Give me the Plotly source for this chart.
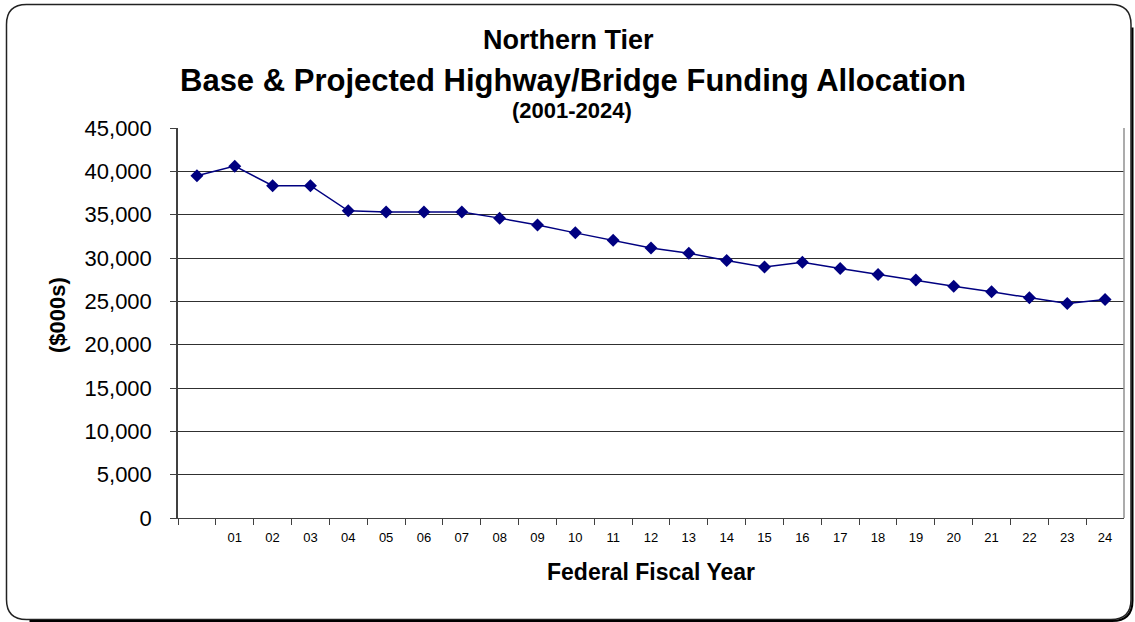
import plotly.graph_objects as go

# ---- data ----
year_labels = ["", "01", "02", "03", "04", "05", "06", "07", "08", "09", "10", "11", "12",
               "13", "14", "15", "16", "17", "18", "19", "20", "21", "22", "23", "24"]
funding = [39500, 40600, 38350, 38350, 35450, 35300, 35300, 35300, 34600, 33800, 32900,
           32050, 31150, 30550, 29700, 28950, 29500, 28800, 28100, 27450, 26750, 26100,
           25400, 24750, 25200]
y_ticks = [0, 5000, 10000, 15000, 20000, 25000, 30000, 35000, 40000, 45000]
y_tick_text = ["0", "5,000", "10,000", "15,000", "20,000", "25,000", "30,000",
               "35,000", "40,000", "45,000"]

W, H = 1135, 622
L, R, T, B = 178, 1124, 128, 518
PW, PH = R - L, B - T


def px(X):
    return (X - L) / PW


def py(Y):
    return (B - Y) / PH


x_idx = list(range(len(year_labels)))

fig = go.Figure()
fig.add_trace(go.Scatter(
    x=x_idx, y=funding, mode="lines+markers",
    line=dict(color="#000080", width=1.5),
    marker=dict(symbol="diamond", size=10, color="#000080"),
    hoverinfo="y", showlegend=False,
))

font = "Liberation Sans, Arial, sans-serif"

fig.update_layout(
    width=W, height=H,
    margin=dict(l=L, r=W - R, t=T, b=H - B),
    paper_bgcolor="white", plot_bgcolor="white",
    font=dict(family=font, color="black"),
    xaxis=dict(
        range=[-0.5, len(year_labels) - 0.5],
        tickmode="array", tickvals=x_idx, ticktext=year_labels,
        ticks="", showgrid=False, zeroline=False,
        tickfont=dict(size=13, family=font),
        showline=True, linecolor="#404040", linewidth=1, mirror=False,
        minor=dict(tickmode="array", tickvals=[i + 0.5 for i in x_idx[:-1]] + [-0.5],
                   ticks="outside", ticklen=6, tickcolor="#404040", showgrid=False),
        ticklabelstandoff=7,
        fixedrange=True,
    ),
    yaxis=dict(
        range=[0, 45000],
        tickmode="array", tickvals=y_ticks, ticktext=y_tick_text,
        ticks="outside", ticklen=6, tickcolor="#404040",
        showgrid=True, gridcolor="#303030", gridwidth=1,
        zeroline=False,
        tickfont=dict(size=22, family=font),
        ticklabelstandoff=14,
        showline=True, linecolor="#404040", linewidth=1.5,
        fixedrange=True,
    ),
)

# right border of plot area
fig.add_shape(type="line", xref="paper", yref="paper", x0=1, x1=1, y0=0, y1=1,
              line=dict(color="#909090", width=1.5))


def title(text, X, Y, size, angle=0):
    fig.add_annotation(text=text, xref="paper", yref="paper", x=px(X), y=py(Y),
                       xanchor="center", yanchor="middle", textangle=angle,
                       showarrow=False, font=dict(size=size, family=font))


title("<b>Northern Tier</b>", 568, 40, 27)
title("<b>Base &amp; Projected Highway/Bridge Funding Allocation</b>", 573, 80, 31)
title("<b>(2001-2024)</b>", 572, 111, 22)
title("<b>($000s)</b>", 57, 315, 22, angle=-90)
title("<b>Federal Fiscal Year</b>", 651, 572, 23)

# rounded outer border
x0, y0, x1, y1, r = 6.5, 4.5, 1131, 619.5, 20


def P(X, Y):
    return f"{px(X):.5f},{py(Y):.5f}"


path = (f"M {P(x0 + r, y0)} L {P(x1 - r, y0)} Q {P(x1, y0)} {P(x1, y0 + r)} "
        f"L {P(x1, y1 - r)} Q {P(x1, y1)} {P(x1 - r, y1)} "
        f"L {P(x0 + r, y1)} Q {P(x0, y1)} {P(x0, y1 - r)} "
        f"L {P(x0, y0 + r)} Q {P(x0, y0)} {P(x0 + r, y0)} Z")
fig.add_shape(type="path", xref="paper", yref="paper", path=path,
              line=dict(color="#222222", width=1.5), layer="below")
# shadow on bottom-right
sh = (f"M {P(x1 + 1.5, y0 + r + 3)} L {P(x1 + 1.5, y1 - r + 1)} "
      f"Q {P(x1 + 1.5, y1 + 1.5)} {P(x1 - r + 1, y1 + 1.5)} L {P(x0 + r + 3, y1 + 1.5)}")
fig.add_shape(type="path", xref="paper", yref="paper", path=sh,
              line=dict(color="#000000", width=2), layer="below")

fig.write_html("out.html")
